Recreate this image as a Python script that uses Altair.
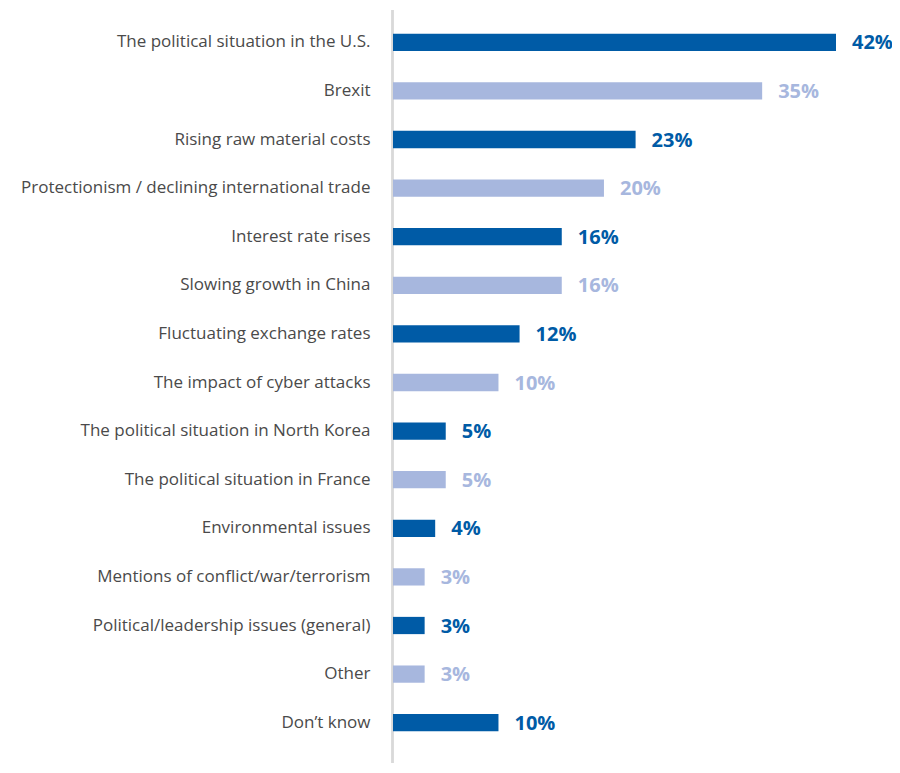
import altair as alt
import pandas as pd

categories = [
    "The political situation in the U.S.",
    "Brexit",
    "Rising raw material costs",
    "Protectionism / declining international trade",
    "Interest rate rises",
    "Slowing growth in China",
    "Fluctuating exchange rates",
    "The impact of cyber attacks",
    "The political situation in North Korea",
    "The political situation in France",
    "Environmental issues",
    "Mentions of conflict/war/terrorism",
    "Political/leadership issues (general)",
    "Other",
    "Don\u2019t know",
]
values = [42, 35, 23, 20, 16, 16, 12, 10, 5, 5, 4, 3, 3, 3, 10]
shades = ["dark", "light"] * 7 + ["dark"]

df = pd.DataFrame({
    "cat": categories,
    "val": values,
    "shade": shades,
    "label": [f"{v}%" for v in values],
})

DARK = "#005BA6"
LIGHT = "#A7B7DE"

y_enc = alt.Y(
    "cat:N",
    sort=categories,
    title=None,
    scale=alt.Scale(paddingInner=0.645, paddingOuter=0.3225),
    axis=alt.Axis(
        domain=False,
        ticks=False,
        labelPadding=23,
        labelFont="Open Sans",
        labelFontSize=17,
        labelColor="#4a4a4a",
        labelLimit=450,
    ),
)
x_enc = alt.X("val:Q", title=None, scale=alt.Scale(domain=[0, 42], nice=False), axis=None)
color_enc = alt.Color(
    "shade:N",
    scale=alt.Scale(domain=["dark", "light"], range=[DARK, LIGHT]),
    legend=None,
)

base = alt.Chart(df)

bars = base.mark_bar(cornerRadius=0).encode(y=y_enc, x=x_enc, color=color_enc)

text = base.mark_text(
    align="left", baseline="middle", dx=16, dy=1,
    font="Open Sans", fontSize=20, fontWeight="bold",
).encode(y=y_enc, x=x_enc, text="label:N", color=color_enc)

axis_line = alt.Chart(df).mark_rule(color="#d9d9d9", strokeWidth=1.5).encode(
    x=alt.value(-0.5), y=alt.value(-8), y2=alt.value(747)
)

chart = alt.layer(axis_line, bars, text).properties(
    width=443,
    height=729,
    padding={"left": 385, "top": 10, "right": 56, "bottom": 16},
    autosize=alt.AutoSizeParams(type="none"),
    background="white",
).configure_view(strokeWidth=0, stroke=None)

chart.save("out.html", embed_options={"renderer": "svg", "actions": False})
